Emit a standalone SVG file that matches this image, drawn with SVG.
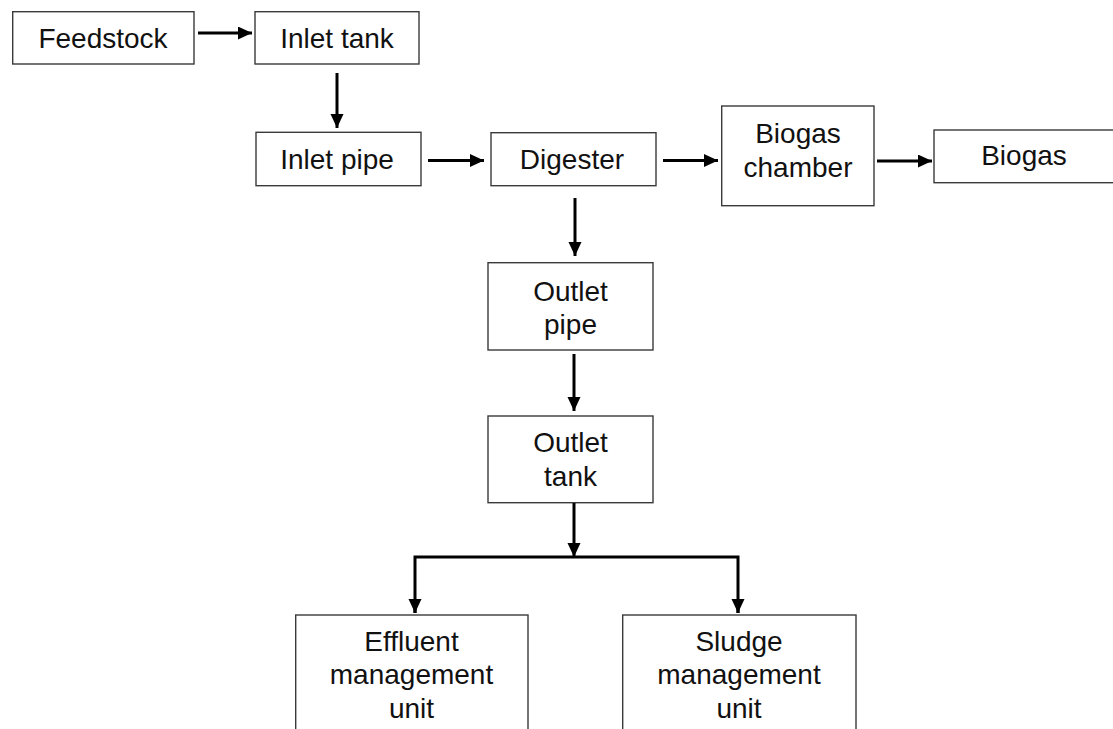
<svg xmlns="http://www.w3.org/2000/svg" width="1113" height="729" viewBox="0 0 1113 729">
<style>
.box{fill:#fff;stroke:#3a3a3a;stroke-width:1.4}
.t{font-family:"Liberation Sans",Arial,sans-serif;font-size:28px;fill:#111;text-anchor:middle}
.c{stroke:#000;stroke-width:3;fill:none}
</style>
<defs>
<marker id="ah" markerUnits="userSpaceOnUse" markerWidth="15" markerHeight="14" refX="14" refY="6.5" orient="auto">
<path d="M0,0 L14,6.5 L0,13 z" fill="#000"/>
</marker>
</defs>
<rect width="1113" height="729" fill="#fff"/>
<g id="feedstock"><rect class="box" x="12.7" y="11.7" width="181.3" height="52.3"/><text class="t" x="103" y="48">Feedstock</text></g>
<g id="inlet-tank"><rect class="box" x="255" y="11.7" width="164" height="52.3"/><text class="t" x="337" y="48">Inlet tank</text></g>
<g id="inlet-pipe"><rect class="box" x="256" y="132.3" width="165" height="53.4"/><text class="t" x="337" y="168.5">Inlet pipe</text></g>
<g id="digester"><rect class="box" x="491" y="132.7" width="165" height="53"/><text class="t" x="572" y="169.3">Digester</text></g>
<g id="biogas-chamber"><rect class="box" x="721.7" y="106" width="152.3" height="99.7"/><text class="t" x="798" y="143.3">Biogas</text><text class="t" x="798" y="177.3">chamber</text></g>
<g id="biogas"><rect class="box" x="934" y="130" width="185" height="52.7"/><text class="t" x="1024" y="165">Biogas</text></g>
<g id="outlet-pipe"><rect class="box" x="488" y="262.7" width="165" height="87.3"/><text class="t" x="570.5" y="300.5">Outlet</text><text class="t" x="570.5" y="334">pipe</text></g>
<g id="outlet-tank"><rect class="box" x="488" y="416" width="165" height="86.7"/><text class="t" x="570.5" y="451.7">Outlet</text><text class="t" x="570.5" y="485.7">tank</text></g>
<g id="effluent"><rect class="box" x="295.7" y="615" width="232.3" height="130"/><text class="t" x="411.5" y="651">Effluent</text><text class="t" x="411.5" y="684.3">management</text><text class="t" x="411.5" y="717.7">unit</text></g>
<g id="sludge"><rect class="box" x="622.7" y="615" width="233.3" height="130"/><text class="t" x="739" y="651">Sludge</text><text class="t" x="739" y="684.3">management</text><text class="t" x="739" y="717.7">unit</text></g>
<g id="connectors">
<line class="c" x1="198" y1="33" x2="252" y2="33" marker-end="url(#ah)"/>
<line class="c" x1="337" y1="73" x2="337" y2="128" marker-end="url(#ah)"/>
<line class="c" x1="428" y1="160.5" x2="484" y2="160.5" marker-end="url(#ah)"/>
<line class="c" x1="663" y1="160.5" x2="718" y2="160.5" marker-end="url(#ah)"/>
<line class="c" x1="877" y1="161" x2="932" y2="161" marker-end="url(#ah)"/>
<line class="c" x1="575" y1="198" x2="575" y2="256" marker-end="url(#ah)"/>
<line class="c" x1="574" y1="354" x2="574" y2="411" marker-end="url(#ah)"/>
<line class="c" x1="574" y1="503" x2="574" y2="557" marker-end="url(#ah)"/>
<polyline class="c" points="415,613 415,557 738,557 738,613"/>
<line class="c" x1="415" y1="600" x2="415" y2="613" marker-end="url(#ah)"/>
<line class="c" x1="738" y1="600" x2="738" y2="613" marker-end="url(#ah)"/>
</g>
</svg>
